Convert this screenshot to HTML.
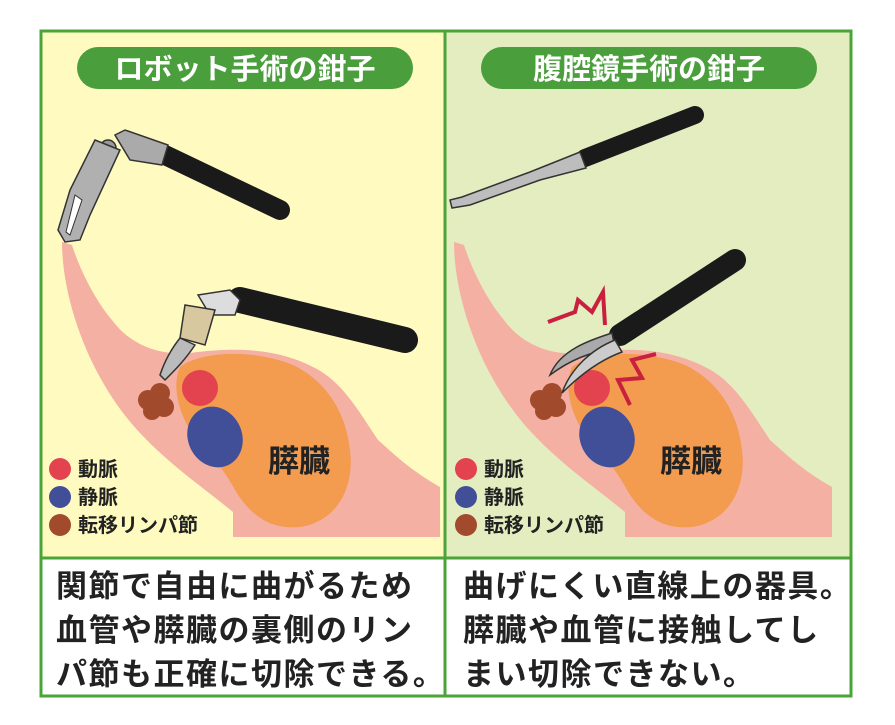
<!DOCTYPE html>
<html><head><meta charset="utf-8"><style>
body{margin:0;background:#fff;}
svg{display:block;}
text{font-family:"Liberation Sans","Noto Sans CJK JP",sans-serif;font-weight:bold;}
</style></head><body>
<svg width="895" height="725" viewBox="0 0 895 725">
<rect x="0" y="0" width="895" height="725" fill="#fff"/>
<rect x="41" y="31" width="404" height="527" fill="#fffbc0"/>
<rect x="445" y="31" width="406" height="527" fill="#e3edbf"/>
<defs>
<g id="anat">
<path d="M62,242 C62,300 90,380 140,433 C170,465 200,485 233,512 L233,537 L440,537 L440,487 C410,470 395,455 378,440 C355,405 340,380 313,367 C280,350 240,346 190,353 C160,356 130,345 112,320 C95,300 80,270 72,245 Z" fill="#f5b0a4"/>
<path d="M180,367 C200,352 250,348 293,365 C320,378 345,405 350,450 C355,490 335,522 300,527 C270,530 250,515 235,490 C222,465 205,450 190,430 C178,410 172,385 180,367 Z" fill="#f39b4e"/>
<circle cx="200" cy="388" r="18" fill="#e2434e"/>
<ellipse cx="215" cy="437" rx="27" ry="31" transform="rotate(-25 215 437)" fill="#414e98"/>
<g fill="#a24a2c"><circle cx="148" cy="400" r="10"/><circle cx="160" cy="393" r="10"/><circle cx="164" cy="407" r="10"/><circle cx="152" cy="411" r="9"/><circle cx="158" cy="400" r="9"/></g>
<text x="268" y="472" font-size="31" fill="#222">膵臓</text>
</g>
</defs>
<use href="#anat"/>
<use href="#anat" transform="translate(392,0)"/>
<g font-size="20" fill="#222">
<circle cx="60" cy="469" r="11" fill="#e2434e"/><text x="78" y="476">動脈</text>
<circle cx="60" cy="497" r="11" fill="#414e98"/><text x="78" y="504">静脈</text>
<circle cx="60" cy="525" r="11" fill="#a24a2c"/><text x="78" y="532">転移リンパ節</text>
<circle cx="466" cy="469" r="11" fill="#e2434e"/><text x="484" y="476">動脈</text>
<circle cx="466" cy="497" r="11" fill="#414e98"/><text x="484" y="504">静脈</text>
<circle cx="466" cy="525" r="11" fill="#a24a2c"/><text x="484" y="532">転移リンパ節</text>
</g>
<line x1="165" y1="155" x2="280" y2="210" stroke="#1a1a1a" stroke-width="20" stroke-linecap="round"/>
<path d="M115,135 L125,130 L168,145 L162,165 L130,160 Z" fill="#aaa" stroke="#333" stroke-width="1.5"/>
<circle cx="108" cy="148" r="8" fill="#999" stroke="#333" stroke-width="1.5"/>
<path d="M95,140 L120,150 L90,215 L80,240 L65,242 L58,230 L70,190 Z" fill="#b0b0b0" stroke="#333" stroke-width="1.5"/>
<path d="M75,195 L82,200 L70,235 L66,232 Z" fill="#fff" stroke="#333"/>
<line x1="240" y1="300" x2="405" y2="340" stroke="#1a1a1a" stroke-width="26" stroke-linecap="round"/>
<path d="M198,295 L230,290 L240,300 L235,315 L210,315 Z" fill="#ddd" stroke="#333" stroke-width="1.5"/>
<path d="M185,305 L215,310 L205,345 L180,338 Z" fill="#d8c8a0" stroke="#333" stroke-width="1.5"/>
<path d="M180,338 L195,345 C185,360 175,370 165,380 L160,375 C165,360 172,348 180,338 Z" fill="#bbb" stroke="#333" stroke-width="1.5"/>
<line x1="585" y1="158" x2="695" y2="115" stroke="#1a1a1a" stroke-width="18" stroke-linecap="round"/>
<path d="M580,152 L586,168 L540,180 L470,205 L452,208 L450,200 L462,197 L530,172 Z" fill="#bdbdbd" stroke="#333" stroke-width="1.5"/>
<line x1="620" y1="335" x2="735" y2="260" stroke="#1a1a1a" stroke-width="22" stroke-linecap="round"/>
<path d="M612,333 C590,340 560,350 550,375 C570,360 590,352 615,348 Z" fill="#aaa" stroke="#333" stroke-width="1.5"/>
<path d="M615,340 C590,350 570,370 562,393 C580,375 600,360 622,352 Z" fill="#ccc" stroke="#333" stroke-width="1.5"/>
<polyline points="548,322 575,312 578,300 592,312 603,292 605,325" fill="none" stroke="#c8203e" stroke-width="4"/>
<polyline points="656,354 632,360 642,378 618,380 630,405" fill="none" stroke="#c8203e" stroke-width="4"/>
<rect x="77" y="47" width="336" height="42" rx="21" fill="#4a9f3c"/>
<text x="245" y="79" font-size="29" fill="#fff" text-anchor="middle">ロボット手術の鉗子</text>
<rect x="481" y="47" width="336" height="42" rx="21" fill="#4a9f3c"/>
<text x="649" y="79" font-size="29" fill="#fff" text-anchor="middle">腹腔鏡手術の鉗子</text>
<rect x="41" y="31" width="810" height="665" fill="none" stroke="#4aa43a" stroke-width="3"/>
<line x1="445" y1="31" x2="445" y2="696" stroke="#4aa43a" stroke-width="3"/>
<line x1="41" y1="558" x2="851" y2="558" stroke="#4aa43a" stroke-width="3"/>
<g font-size="31" fill="#222" letter-spacing="1.5">
<text x="56" y="597">関節で自由に曲がるため</text>
<text x="56" y="641">血管や膵臓の裏側のリン</text>
<text x="56" y="685">パ節も正確に切除できる。</text>
<text x="463" y="597">曲げにくい直線上の器具。</text>
<text x="463" y="641">膵臓や血管に接触してし</text>
<text x="463" y="685">まい切除できない。</text>
</g>
</svg>
</body></html>
